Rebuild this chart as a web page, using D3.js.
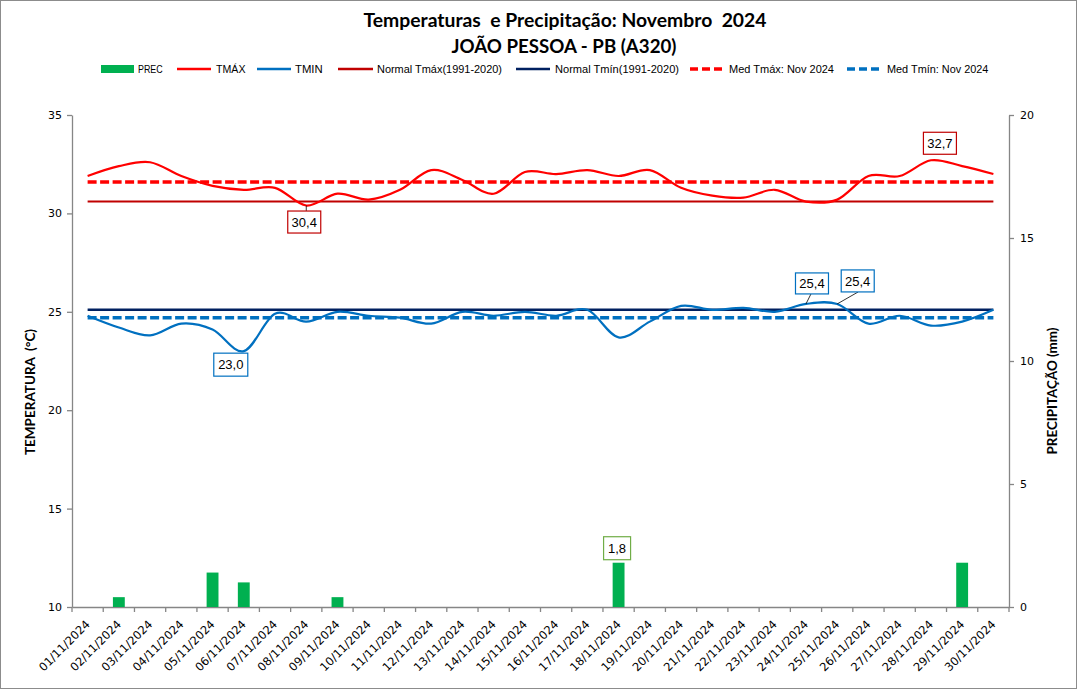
<!DOCTYPE html>
<html><head><meta charset="utf-8">
<script src="https://cdn.jsdelivr.net/npm/d3@7"></script>
<style>
html,body{margin:0;padding:0;background:#fff;}
svg{display:block;}
text.pre{white-space:pre;}
</style></head>
<body>
<script>
// ---------------- DATA ----------------
const days = ["01/11/2024","02/11/2024","03/11/2024","04/11/2024","05/11/2024","06/11/2024","07/11/2024","08/11/2024","09/11/2024","10/11/2024","11/11/2024","12/11/2024","13/11/2024","14/11/2024","15/11/2024","16/11/2024","17/11/2024","18/11/2024","19/11/2024","20/11/2024","21/11/2024","22/11/2024","23/11/2024","24/11/2024","25/11/2024","26/11/2024","27/11/2024","28/11/2024","29/11/2024","30/11/2024"];
const prec = [0,0.4,0,0,1.4,1.0,0,0,0.4,0,0,0,0,0,0,0,0,1.8,0,0,0,0,0,0,0,0,0,0,1.8,0];
const tmax = [31.9,32.4,32.6,31.9,31.4,31.2,31.3,30.4,31.0,30.7,31.2,32.2,31.7,31.0,32.1,32.0,32.2,31.9,32.2,31.3,30.9,30.8,31.2,30.6,30.7,31.9,31.9,32.7,32.4,32.0];
const tmin = [24.8,24.2,23.8,24.4,24.1,23.0,24.9,24.5,25.0,24.8,24.7,24.4,25.0,24.8,25.0,24.8,25.1,23.7,24.5,25.3,25.1,25.2,25.0,25.4,25.4,24.4,24.8,24.3,24.5,25.1];
const normalTmax = 30.6;
const normalTmin = 25.1;
const medTmax = 31.6;
const medTmin = 24.7;
const tempTicks = [10,15,20,25,30,35];
const precTicks = [0,5,10,15,20];
const legendLabels = ["PREC","TMÁX","TMIN","Normal Tmáx(1991-2020)","Normal Tmín(1991-2020)","Med Tmáx: Nov 2024","Med Tmín: Nov 2024"];
const titleLines = ["Temperaturas  e Precipitação: Novembro  2024","JOÃO PESSOA - PB (A320)"];
const yTitleLeft = "TEMPERATURA  (°C)";
const yTitleRight = "PRECIPITAÇÃO (mm)";

// ---------------- LAYOUT ----------------
const W = 1077, H = 689;
const L = 72, R = 1009, T = 115, B = 607;
const C = {prec:"#00B050", tmax:"#FF0000", tmin:"#0070C0", ntmax:"#C00000", ntmin:"#002060", axis:"#868686"};

const svg = d3.select("body").append("svg").attr("width", W).attr("height", H);
svg.append("rect").attr("x",0.5).attr("y",0.5).attr("width",W-1).attr("height",H-1)
  .attr("fill","#fff").attr("stroke","#8c8c8c");

const x = d3.scaleBand().domain(days).range([L, R]).padding(0);
const cx = d => x(d) + x.bandwidth()/2;
const y = d3.scaleLinear().domain([10,35]).range([B, T]);
const yp = d3.scaleLinear().domain([0,20]).range([B, T]);

// Titles
const tfont = "'Lato','Open Sans',sans-serif";
svg.append("text").attr("class","pre").attr("x",565).attr("y",27).attr("text-anchor","middle")
  .attr("font-family",tfont).attr("font-weight","bold").attr("font-size",18)
  .attr("textLength",403).attr("lengthAdjust","spacingAndGlyphs").attr("fill","#000").text(titleLines[0]);
svg.append("text").attr("class","pre").attr("x",564).attr("y",53).attr("text-anchor","middle")
  .attr("font-family",tfont).attr("font-weight","bold").attr("font-size",18)
  .attr("textLength",225).attr("lengthAdjust","spacingAndGlyphs").attr("fill","#000").text(titleLines[1]);

// Legend
const lfont = "'Liberation Sans Narrow','Liberation Sans',sans-serif";
const legLayout = [
  {sx:101, ex:134, tx:138, tw:24.7, kind:"rect", color:C.prec},
  {sx:177, ex:211, tx:216, tw:29.5, kind:"line", color:C.tmax, w:2.5},
  {sx:257, ex:291, tx:295, tw:27.7, kind:"line", color:C.tmin, w:2.5},
  {sx:338, ex:373, tx:377, tw:125, kind:"line", color:C.ntmax, w:2.5},
  {sx:516, ex:550, tx:555, tw:124, kind:"line", color:C.ntmin, w:2.5},
  {sx:690, ex:724, tx:729, tw:105, kind:"dash", color:C.tmax, w:3.5},
  {sx:847, ex:881, tx:887, tw:101.4, kind:"dash", color:C.tmin, w:3.5}
];
const lg = svg.append("g");
legLayout.forEach((d,i) => {
  if (d.kind === "rect") {
    lg.append("rect").attr("x",d.sx).attr("y",65).attr("width",d.ex-d.sx).attr("height",8).attr("fill",d.color);
  } else {
    lg.append("line").attr("x1",d.sx).attr("x2",d.ex).attr("y1",69).attr("y2",69)
      .attr("stroke",d.color).attr("stroke-width",d.w)
      .attr("stroke-dasharray", d.kind==="dash" ? "8,4" : null);
  }
  lg.append("text").attr("x",d.tx).attr("y",73).attr("font-family",lfont).attr("font-size",11.5)
    .attr("textLength",d.tw).attr("lengthAdjust","spacingAndGlyphs").attr("fill","#000").text(legendLabels[i]);
});

// Axes
const afont = "'DejaVu Sans',sans-serif";
const axL = svg.append("g").attr("transform",`translate(${L},0)`)
  .call(d3.axisLeft(y).tickValues(tempTicks).tickSize(5).tickSizeOuter(0).tickPadding(5));
const axR = svg.append("g").attr("transform",`translate(${R},0)`)
  .call(d3.axisRight(yp).tickValues(precTicks).tickSize(5).tickSizeOuter(0).tickPadding(6));
const axB = svg.append("g").attr("transform",`translate(0,${B})`)
  .call(d3.axisBottom(x).tickSize(0).tickSizeOuter(0));
[axL, axR, axB].forEach(g => {
  g.select(".domain").attr("stroke",C.axis).attr("stroke-width",1.3);
  g.selectAll(".tick line").attr("stroke",C.axis).attr("stroke-width",1.3);
  g.selectAll("text").attr("font-family",afont).attr("font-size",11).attr("fill","#000");
});
axB.selectAll(".tick text").remove();
axB.selectAll(".tick line").remove();
// band boundary ticks on x axis
const bounds = days.map(d => x(d)).concat([R]);
axB.selectAll("line.bt").data(bounds).enter().append("line").attr("class","bt")
  .attr("x1",d=>d).attr("x2",d=>d).attr("y1",0).attr("y2",5)
  .attr("stroke",C.axis).attr("stroke-width",1.3);
// rotated date labels
svg.append("g").selectAll("text").data(days).enter().append("text")
  .attr("transform", d => `translate(${cx(d)+3},${B+18}) rotate(-45)`)
  .attr("text-anchor","end").attr("font-family",afont).attr("font-size",11.5).attr("fill","#000")
  .text(d => d);

// Axis titles
svg.append("text").attr("class","pre").attr("transform","translate(35,392) rotate(-90)").attr("text-anchor","middle")
  .attr("font-family",tfont).attr("font-weight","bold").attr("font-size",13)
  .attr("textLength",126).attr("lengthAdjust","spacingAndGlyphs").text(yTitleLeft);
svg.append("text").attr("class","pre").attr("transform","translate(1057,391) rotate(-90)").attr("text-anchor","middle")
  .attr("font-family",tfont).attr("font-weight","bold").attr("font-size",13)
  .attr("textLength",127).attr("lengthAdjust","spacingAndGlyphs").text(yTitleRight);

// Bars
const bw = x.bandwidth()*0.38;
svg.append("g").selectAll("rect").data(days.map((d,i)=>({d, v:prec[i]})).filter(o=>o.v>0))
  .enter().append("rect")
  .attr("x", o => cx(o.d) - bw/2).attr("width", bw)
  .attr("y", o => yp(o.v)).attr("height", o => yp(0) - yp(o.v)).attr("fill", C.prec);

// Lines
const curve = d3.curveCardinal.tension(0);
const lineGen = d3.line().x(p => cx(p.d)).y(p => y(p.v));
const series = (arr) => days.map((d,i)=>({d, v:arr[i]}));
const constSeries = v => days.map(d => ({d, v}));
svg.append("path").datum(constSeries(normalTmax)).attr("d", lineGen)
  .attr("fill","none").attr("stroke",C.ntmax).attr("stroke-width",2);
svg.append("path").datum(constSeries(normalTmin)).attr("d", lineGen)
  .attr("fill","none").attr("stroke",C.ntmin).attr("stroke-width",2.5);
svg.append("path").datum(constSeries(medTmax)).attr("d", lineGen)
  .attr("fill","none").attr("stroke",C.tmax).attr("stroke-width",3.5).attr("stroke-dasharray","9,3.5");
svg.append("path").datum(constSeries(medTmin)).attr("d", lineGen)
  .attr("fill","none").attr("stroke",C.tmin).attr("stroke-width",3.5).attr("stroke-dasharray","9,3.5");
svg.append("path").datum(series(tmax)).attr("d", lineGen.curve(curve))
  .attr("fill","none").attr("stroke",C.tmax).attr("stroke-width",2.2);
svg.append("path").datum(series(tmin)).attr("d", lineGen.curve(curve))
  .attr("fill","none").attr("stroke",C.tmin).attr("stroke-width",2.2);

// Data labels
const bfont = "'Liberation Sans',Arial,sans-serif";
function dataLabel(px, py, dx, top, w, h, text, color, leader) {
  const bx = px + dx - w/2, by = py + top;
  if (leader) {
    svg.append("line").attr("x1",px).attr("y1",py).attr("x2",px+leader[0]).attr("y2",py+leader[1])
      .attr("stroke","#000").attr("stroke-width",0.8);
  }
  svg.append("rect").attr("x",bx).attr("y",by).attr("width",w).attr("height",h)
    .attr("fill","#fff").attr("stroke",color).attr("stroke-width",1.2);
  svg.append("text").attr("x",bx+w/2).attr("y",by+h/2+4.6).attr("text-anchor","middle")
    .attr("font-family",bfont).attr("font-size",13).attr("fill","#000").text(text);
}
const fmt = v => v.toFixed(1).replace(".", ",");
const iMax = tmax.indexOf(d3.max(tmax));
const iMin = tmax.indexOf(d3.min(tmax));
const iTminMin = tmin.indexOf(d3.min(tmin));
const tminMax = d3.max(tmin);
const iPrec = prec.indexOf(d3.max(prec));
dataLabel(cx(days[iMin]), y(tmax[iMin]), -2, 5.5, 33, 22, fmt(tmax[iMin]), C.ntmax, [0,5.5]);
dataLabel(cx(days[iMax]), y(tmax[iMax]), 9, -28, 33, 22, fmt(tmax[iMax]), C.ntmax, null);
dataLabel(cx(days[iTminMin]), y(tmin[iTminMin]), -13, 2, 34, 23, fmt(tmin[iTminMin]), C.tmin, null);
const tmaxIdx = tmin.map((v,i)=>v===tminMax?i:-1).filter(i=>i>=0);
dataLabel(cx(days[tmaxIdx[0]]), y(tmin[tmaxIdx[0]]), 6, -31, 33, 21, fmt(tmin[tmaxIdx[0]]), C.tmin, [5,-10]);
dataLabel(cx(days[tmaxIdx[1]]), y(tmin[tmaxIdx[1]]), 20.5, -34, 33, 22, fmt(tmin[tmaxIdx[1]]), C.tmin, [21,-12]);
dataLabel(cx(days[iPrec]), yp(prec[iPrec]), -1.5, -26, 27, 23, fmt(prec[iPrec]), "#70AD47", null);
</script>
</body></html>
